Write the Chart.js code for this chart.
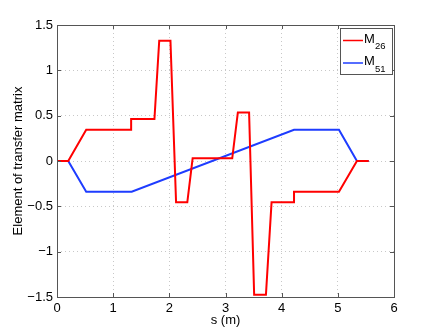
<!DOCTYPE html>
<html>
<head>
<meta charset="utf-8">
<script src="https://cdn.jsdelivr.net/npm/chart.js@4"></script>
<style>
  html, body { margin: 0; padding: 0; background: #fff; }
  #wrap { width: 436px; height: 335px; position: relative; }
</style>
</head>
<body>
<div id="wrap"><canvas id="chart" width="436" height="335"></canvas></div>
<script>
// M26 element along s
const m26S   = [0, 0.2, 0.52, 1.32, 1.32, 1.735, 1.82, 2.02, 2.12, 2.32, 2.415, 3.12, 3.22, 3.42, 3.51, 3.72, 3.82, 4.22, 4.22, 5.02, 5.34, 5.55];
const m26Val = [0, 0, 0.345, 0.345, 0.463, 0.463, 1.326, 1.326, -0.456, -0.456, 0.03, 0.03, 0.536, 0.536, -1.474, -1.474, -0.456, -0.456, -0.338, -0.338, 0, 0];

// M51 element along s
const m51S   = [0, 0.2, 0.52, 1.33, 4.22, 5.02, 5.34, 5.55];
const m51Val = [0, 0, -0.338, -0.338, 0.345, 0.345, 0, 0];

const xTicks = [0, 1, 2, 3, 4, 5, 6];
const yTicks = [-1.5, -1, -0.5, 0, 0.5, 1, 1.5];

const FONT = "'Liberation Sans', Arial, sans-serif";
const RED = '#ff0000';
const BLUE = '#1e3cff';

function toPoints(xs, ys) {
  return xs.map((x, i) => ({ x: x, y: ys[i] }));
}

function fmt(v) {
  return String(v).replace('-', '\u2212');
}

// frame, inward ticks, legend box
const framePlugin = {
  id: 'frame',
  afterDatasetsDraw(chart) {
    const ctx = chart.ctx;
    const a = chart.chartArea;
    const xs = chart.scales.x, ys = chart.scales.y;
    ctx.save();
    ctx.strokeStyle = '#555';
    ctx.lineWidth = 1;
    ctx.strokeRect(a.left + 0.5, a.top + 0.5, a.right - a.left, a.bottom - a.top);
    ctx.beginPath();
    xTicks.forEach(t => {
      const px = Math.round(xs.getPixelForValue(t)) + 0.5;
      ctx.moveTo(px, a.bottom); ctx.lineTo(px, a.bottom - 4);
      ctx.moveTo(px, a.top); ctx.lineTo(px, a.top + 4);
    });
    yTicks.forEach(t => {
      const py = Math.round(ys.getPixelForValue(t)) + 0.5;
      ctx.moveTo(a.left, py); ctx.lineTo(a.left + 4, py);
      ctx.moveTo(a.right, py); ctx.lineTo(a.right - 4, py);
    });
    ctx.stroke();

    // legend
    const lx = 340.5, ly = 28.5, lw = 52, lh = 46;
    ctx.fillStyle = '#fff';
    ctx.fillRect(lx, ly, lw, lh);
    ctx.strokeStyle = '#555';
    ctx.strokeRect(lx, ly, lw, lh);
    const items = [
      { color: RED, sub: '26', y: 40.5 },
      { color: BLUE, sub: '51', y: 63 }
    ];
    items.forEach(it => {
      ctx.strokeStyle = it.color;
      ctx.lineWidth = 1.5;
      ctx.beginPath();
      ctx.moveTo(343, it.y); ctx.lineTo(363, it.y);
      ctx.stroke();
      ctx.fillStyle = '#000';
      ctx.textBaseline = 'alphabetic';
      ctx.textAlign = 'left';
      ctx.font = '13px ' + FONT;
      ctx.fillText('M', 364, it.y + 2);
      ctx.font = '9.5px ' + FONT;
      ctx.fillText(it.sub, 375, it.y + 8.5);
    });
    ctx.restore();
  }
};

new Chart(document.getElementById('chart'), {
  type: 'line',
  data: {
    datasets: [
      {
        label: 'M26',
        data: toPoints(m26S, m26Val),
        borderColor: RED,
        borderWidth: 2,
        pointRadius: 0,
        tension: 0,
        fill: false
      },
      {
        label: 'M51',
        data: toPoints(m51S, m51Val),
        borderColor: BLUE,
        borderWidth: 2,
        pointRadius: 0,
        tension: 0,
        fill: false
      }
    ]
  },
  options: {
    responsive: false,
    animation: false,
    events: [],
    layout: { padding: { top: 25, right: 42, left: 0, bottom: 7 } },
    plugins: {
      legend: { display: false },
      tooltip: { enabled: false }
    },
    scales: {
      x: {
        type: 'linear',
        min: 0,
        max: 6,
        afterBuildTicks: s => { s.ticks = xTicks.map(v => ({ value: v })); },
        afterFit: s => { s.height = 31; },
        ticks: {
          color: '#000',
          font: { size: 13, family: FONT },
          padding: 4,
          maxRotation: 0,
          callback: v => fmt(v)
        },
        grid: {
          drawTicks: false,
          color: c => (c.tick && (c.tick.value === 0 || c.tick.value === 6)) ? 'rgba(0,0,0,0)' : '#c8c8c8',
          lineWidth: 1
        },
        border: { display: false, dash: [1, 3] },
        title: {
          display: true,
          text: 's (m)',
          color: '#000',
          font: { size: 13, family: FONT },
          padding: { top: 0, bottom: 0 }
        }
      },
      y: {
        type: 'linear',
        min: -1.5,
        max: 1.5,
        afterBuildTicks: s => { s.ticks = yTicks.map(v => ({ value: v })); },
        afterFit: s => { s.width = 57; },
        ticks: {
          color: '#000',
          font: { size: 13, family: FONT },
          padding: 4,
          callback: v => fmt(v)
        },
        grid: {
          drawTicks: false,
          color: c => (c.tick && (c.tick.value === -1.5 || c.tick.value === 1.5)) ? 'rgba(0,0,0,0)' : '#c8c8c8',
          lineWidth: 1
        },
        border: { display: false, dash: [1, 3] },
        title: {
          display: true,
          text: 'Element of transfer matrix',
          color: '#000',
          font: { size: 13, family: FONT },
          padding: { top: 11, bottom: 0 }
        }
      }
    }
  },
  plugins: [framePlugin]
});
</script>
</body>
</html>
